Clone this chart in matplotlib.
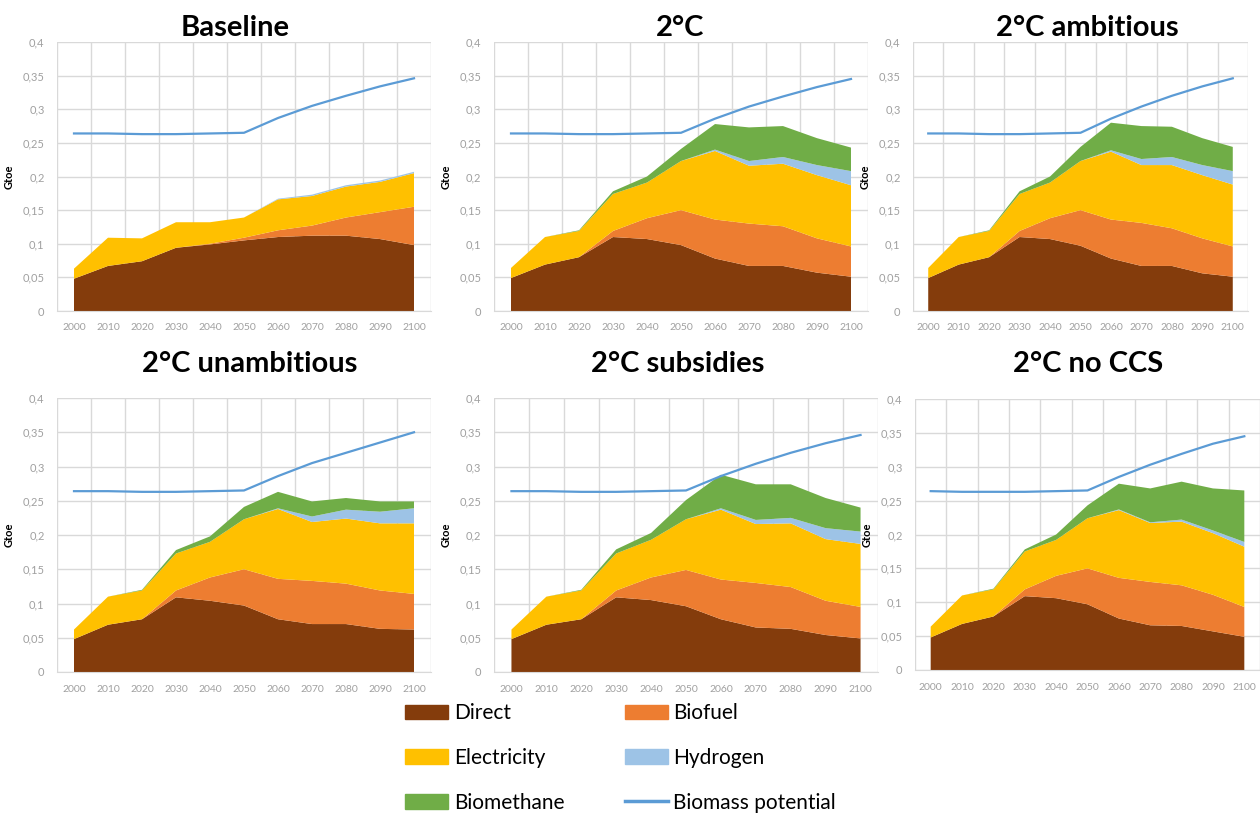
import matplotlib
matplotlib.use("Agg")
import matplotlib.pyplot as plt
from matplotlib.patches import Patch
from matplotlib.lines import Line2D

plt.rcParams["font.family"] = ["Lato", "DejaVu Sans"]

# =========================================================
# DATA
# =========================================================

years = ["2000", "2010", "2020", "2030", "2040", "2050",
         "2060", "2070", "2080", "2090", "2100"]

y_ticks = [0, 0.05, 0.1, 0.15, 0.2, 0.25, 0.3, 0.35, 0.4]
y_tick_labels = ["0", "0,05", "0,1", "0,15", "0,2", "0,25", "0,3", "0,35", "0,4"]

series_names = ["Direct", "Biofuel", "Electricity", "Hydrogen", "Biomethane"]
series_colors = ["#843C0C", "#ED7D31", "#FFC000", "#9DC3E6", "#70AD47"]
line_color = "#5B9BD5"

# Baseline
base_direct = [0.048, 0.067, 0.074, 0.094, 0.099, 0.105, 0.110, 0.112, 0.112, 0.107, 0.098]
base_biofuel = [0, 0, 0, 0, 0.001, 0.004, 0.010, 0.015, 0.027, 0.040, 0.057]
base_elec = [0.015, 0.042, 0.034, 0.038, 0.032, 0.030, 0.046, 0.044, 0.046, 0.045, 0.050]
base_h2 = [0, 0, 0, 0, 0, 0, 0.001, 0.002, 0.002, 0.002, 0.002]
base_biomethane = [0, 0, 0, 0, 0, 0, 0, 0, 0, 0, 0]
base_potential = [0.264, 0.264, 0.263, 0.263, 0.264, 0.265, 0.287, 0.305, 0.320, 0.334, 0.346]

# 2°C
c2_direct = [0.049, 0.069, 0.080, 0.110, 0.107, 0.098, 0.078, 0.067, 0.067, 0.057, 0.051]
c2_biofuel = [0, 0, 0, 0.009, 0.031, 0.052, 0.058, 0.063, 0.059, 0.051, 0.045]
c2_elec = [0.015, 0.041, 0.039, 0.055, 0.053, 0.073, 0.102, 0.086, 0.093, 0.094, 0.091]
c2_h2 = [0, 0, 0, 0, 0, 0, 0.002, 0.007, 0.010, 0.015, 0.021]
c2_biomethane = [0, 0, 0.001, 0.004, 0.009, 0.018, 0.038, 0.050, 0.046, 0.040, 0.035]
c2_potential = [0.264, 0.264, 0.263, 0.263, 0.264, 0.265, 0.286, 0.304, 0.319, 0.333, 0.345]

# 2°C ambitious
amb_direct = [0.049, 0.069, 0.080, 0.110, 0.107, 0.097, 0.078, 0.067, 0.067, 0.056, 0.051]
amb_biofuel = [0, 0, 0, 0.009, 0.031, 0.053, 0.058, 0.064, 0.056, 0.052, 0.045]
amb_elec = [0.015, 0.041, 0.039, 0.055, 0.053, 0.073, 0.101, 0.086, 0.094, 0.094, 0.092]
amb_h2 = [0, 0, 0, 0, 0, 0, 0.002, 0.009, 0.012, 0.015, 0.020]
amb_biomethane = [0, 0, 0.001, 0.004, 0.009, 0.021, 0.041, 0.049, 0.045, 0.040, 0.036]
amb_potential = [0.264, 0.264, 0.263, 0.263, 0.264, 0.265, 0.286, 0.304, 0.320, 0.334, 0.346]

# 2°C unambitious
unamb_direct = [0.048, 0.069, 0.077, 0.109, 0.104, 0.097, 0.077, 0.070, 0.070, 0.063, 0.062]
unamb_biofuel = [0, 0, 0, 0.010, 0.034, 0.053, 0.059, 0.063, 0.059, 0.056, 0.052]
unamb_elec = [0.014, 0.041, 0.042, 0.054, 0.052, 0.073, 0.102, 0.086, 0.095, 0.098, 0.103]
unamb_h2 = [0, 0, 0, 0, 0, 0, 0.001, 0.008, 0.013, 0.017, 0.022]
unamb_biomethane = [0, 0, 0.001, 0.005, 0.008, 0.018, 0.024, 0.022, 0.017, 0.015, 0.010]
unamb_potential = [0.264, 0.264, 0.263, 0.263, 0.264, 0.265, 0.286, 0.305, 0.320, 0.335, 0.350]

# 2°C subsidies
sub_direct = [0.048, 0.069, 0.077, 0.109, 0.105, 0.096, 0.077, 0.065, 0.063, 0.054, 0.049]
sub_biofuel = [0, 0, 0, 0.010, 0.033, 0.053, 0.058, 0.065, 0.061, 0.050, 0.046]
sub_elec = [0.014, 0.041, 0.042, 0.054, 0.055, 0.074, 0.102, 0.086, 0.093, 0.090, 0.092]
sub_h2 = [0, 0, 0, 0, 0, 0, 0.002, 0.006, 0.008, 0.016, 0.018]
sub_biomethane = [0, 0, 0.001, 0.006, 0.010, 0.028, 0.049, 0.052, 0.049, 0.044, 0.035]
sub_potential = [0.264, 0.264, 0.263, 0.263, 0.264, 0.265, 0.286, 0.304, 0.320, 0.334, 0.346]

# 2°C no CCS
noccs_direct = [0.048, 0.068, 0.079, 0.109, 0.106, 0.097, 0.076, 0.066, 0.065, 0.057, 0.049]
noccs_biofuel = [0, 0, 0, 0.010, 0.033, 0.053, 0.060, 0.064, 0.060, 0.054, 0.044]
noccs_elec = [0.016, 0.042, 0.040, 0.056, 0.053, 0.074, 0.100, 0.087, 0.094, 0.091, 0.089]
noccs_h2 = [0, 0, 0, 0, 0, 0, 0.001, 0.001, 0.003, 0.004, 0.007]
noccs_biomethane = [0, 0, 0.001, 0.003, 0.008, 0.019, 0.038, 0.050, 0.056, 0.062, 0.076]
noccs_potential = [0.264, 0.263, 0.263, 0.263, 0.264, 0.265, 0.285, 0.303, 0.319, 0.334, 0.345]

panels = [
    ("Baseline", [base_direct, base_biofuel, base_elec, base_h2, base_biomethane], base_potential),
    ("2°C", [c2_direct, c2_biofuel, c2_elec, c2_h2, c2_biomethane], c2_potential),
    ("2°C ambitious", [amb_direct, amb_biofuel, amb_elec, amb_h2, amb_biomethane], amb_potential),
    ("2°C unambitious", [unamb_direct, unamb_biofuel, unamb_elec, unamb_h2, unamb_biomethane], unamb_potential),
    ("2°C subsidies", [sub_direct, sub_biofuel, sub_elec, sub_h2, sub_biomethane], sub_potential),
    ("2°C no CCS", [noccs_direct, noccs_biofuel, noccs_elec, noccs_h2, noccs_biomethane], noccs_potential),
]

# =========================================================
# LAYOUT (pixels: left, right, top, bottom, title x, title y)
# =========================================================

W, H = 1260, 814
boxes = [
    (57, 431, 42, 311, 235, 28),
    (494, 868, 42, 311, 680, 28),
    (913, 1248, 42, 311, 1087, 28),
    (57, 431, 398, 672, 250, 364),
    (494, 878, 398, 672, 678, 364),
    (915, 1260, 399, 670, 1088, 364),
]

fig = plt.figure(figsize=(W / 100, H / 100), dpi=100)

x = list(range(len(years)))

for (title, stacks, potential), (l, r, t, b, tx, ty) in zip(panels, boxes):

    ax = fig.add_axes([l / W, 1 - b / H, (r - l) / W, (b - t) / H])

    ax.stackplot(x, stacks, colors=series_colors, linewidth=0)
    ax.plot(x, potential, color=line_color, lw=1.6)

    ax.set_xlim(-0.5, len(years) - 0.5)
    ax.set_ylim(0, 0.4)

    ax.set_xticks(x)
    ax.set_xticklabels(years)
    ax.set_xticks([i - 0.5 for i in range(len(years) + 1)], minor=True)
    ax.set_yticks(y_ticks)
    ax.set_yticklabels(y_tick_labels)

    ax.tick_params(which="both", length=0)
    ax.tick_params(axis="x", labelsize=7.5, colors="#A0A0A0", pad=9)
    ax.tick_params(axis="y", labelsize=8, colors="#A0A0A0", pad=9)

    ax.grid(axis="y", which="major", color="#D9D9D9", lw=1)
    ax.grid(axis="x", which="minor", color="#D9D9D9", lw=1)
    ax.set_axisbelow(True)

    for side in ["top", "right", "left"]:
        ax.spines[side].set_visible(False)
    ax.spines["bottom"].set_color("#D9D9D9")

    ax.set_ylabel("Gtoe", fontsize=8, fontweight="bold")
    ax.yaxis.set_label_coords(-42 / (r - l), 0.5)

    fig.text(tx / W, 1 - ty / H, title, fontsize=21, fontweight="bold",
             ha="center", va="center")

# =========================================================
# LEGEND
# =========================================================

handles = [
    Patch(color=series_colors[0], label="Direct"),
    Patch(color=series_colors[2], label="Electricity"),
    Patch(color=series_colors[4], label="Biomethane"),
    Patch(color=series_colors[1], label="Biofuel"),
    Patch(color=series_colors[3], label="Hydrogen"),
    Line2D([0], [0], color=line_color, lw=2.5, label="Biomass potential"),
]

fig.legend(
    handles=handles,
    ncol=2,
    loc="center left",
    bbox_to_anchor=(397 / W, 1 - 758 / H),
    borderaxespad=0,
    frameon=False,
    fontsize=15,
    handlelength=2.07,
    handletextpad=0.25,
    columnspacing=2.9,
    labelspacing=1.18,
)

fig.savefig("out.png", dpi=100)
